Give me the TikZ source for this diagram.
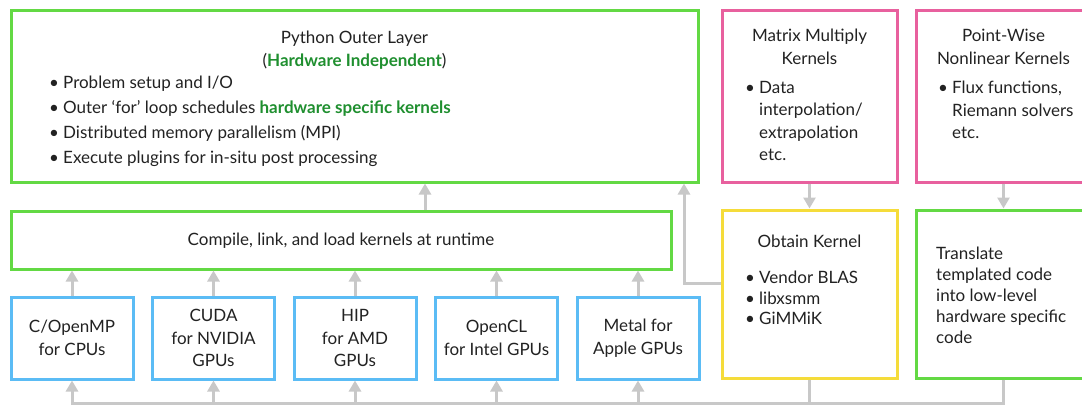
\documentclass[tikz,border=0pt]{standalone}
\usepackage{fontspec}
\setmainfont{Lato}
\usetikzlibrary{arrows.meta}
\definecolor{bgreen}{HTML}{63D944}
\definecolor{bpink}{HTML}{E8609E}
\definecolor{bblue}{HTML}{5BBCF5}
\definecolor{byellow}{HTML}{F5DC3A}
\definecolor{lgray}{HTML}{C8C8C8}
\definecolor{tgreen}{HTML}{1F8F2F}
\definecolor{ink}{HTML}{222222}
\newcommand{\hl}[1]{\textcolor{tgreen}{\bfseries #1}}
\newcommand{\bul}{\makebox[14pt][l]{\textbullet}}
\newcommand{\ind}{\hspace*{14pt}}
\tikzset{
  box/.style={draw=#1, line width=3pt, inner sep=0pt, fill=white},
  txt/.style={text=ink, inner sep=0pt, font=\fontsize{17}{#1}\selectfont},
  txt/.default=22.5,
  conn/.style={draw=lgray, line width=3pt},
  arr/.style={conn, -{Triangle[width=12pt,length=11pt]}},
}
\begin{document}
\begin{tikzpicture}[x=1pt,y=-1pt]
\useasboundingbox (0,0) rectangle (1082,407);
% boxes
\node[box=bgreen, minimum width=687pt, minimum height=172pt] (py) at (354.5,96) {};
\node[box=bpink, minimum width=175pt, minimum height=172pt] (mm) at (809.5,96) {};
\node[box=bpink, minimum width=175pt, minimum height=172pt] (pw) at (1003.5,96) {};
\node[box=bgreen, minimum width=660pt, minimum height=58pt] (cl) at (341,240) {};
\node[box=byellow, minimum width=175pt, minimum height=168pt] (ok) at (809.5,294) {};
\node[box=bgreen, minimum width=175pt, minimum height=168pt] (tr) at (1003.5,294) {};
\foreach \n/\x in {b1/72, b2/213.5, b3/355, b4/496.5, b5/638}
  \node[box=bblue, minimum width=122pt, minimum height=82pt] (\n) at (\x,338) {};
% texts
\node[txt=23, align=center] (pyt) at (354.5,50) {Python Outer Layer\\(\hl{Hardware Independent})};
\node[txt=25, align=left, anchor=west] (pyb) at (49,121) {\bul Problem setup and I/O\\
\bul Outer `for' loop schedules \hl{hardware specific kernels}\\
\bul Distributed memory parallelism (MPI)\\
\bul Execute plugins for in-situ post processing};
\node[txt=23, align=center] (mmt) at (809.5,47) {Matrix Multiply\\Kernels};
\node[txt=22.3, align=left, anchor=west] (mmb) at (745,121) {\bul Data\\\ind interpolation/\\\ind extrapolation\\\ind etc.};
\node[txt=22.5, align=left, anchor=west] (pwb) at (938,110) {\bul Flux functions,\\\ind Riemann solvers\\\ind etc.};
\node[txt=23, align=center] (pwt) at (1003.5,47) {Point-Wise\\Nonlinear Kernels};
\node[txt] (clt) at (341,241) {Compile, link, and load kernels at runtime};
\node[txt] (okt) at (809.5,241) {Obtain Kernel};
\node[txt=20.5, align=left, anchor=west] (okb) at (745,298) {\bul Vendor BLAS\\\bul libxsmm\\\bul GiMMiK};
\node[txt=21, align=left, anchor=west] (trt) at (936,295.5) {Translate\\templated code\\into low-level\\hardware specific\\code};
\node[txt, align=center] (b1t) at (b1) {C/OpenMP\\for CPUs};
\node[txt, align=center] (b2t) at (b2) {CUDA\\for NVIDIA\\GPUs};
\node[txt, align=center] (b3t) at (b3) {HIP\\for AMD\\GPUs};
\node[txt, align=center] (b4t) at (b4) {OpenCL\\for Intel GPUs};
\node[txt, align=center] (b5t) at (b5) {Metal for\\Apple GPUs};
% connectors
\coordinate (bus) at (0,403);
\coordinate (j) at (684,283);
\coordinate (up) at (425,0);
\foreach \n in {b1,b2,b3,b4,b5}
  \draw[arr] (\n.north) -- (\n.north |- cl.south);
\draw[arr] (up |- cl.north) -- (up |- py.south);
\draw[arr] (ok.west |- j) -- (j) -- (j |- py.south);
\draw[arr] (mm.south) -- (ok.north);
\draw[arr] (pw.south) -- (tr.north);
\draw[conn] (ok.south) -- (ok.south |- bus);
\draw[arr] (tr.south) -- (tr.south |- bus) -- (b1.south |- bus) -- (b1.south);
\foreach \n in {b2,b3,b4,b5}
  \draw[arr] (\n.south |- bus) -- (\n.south);
\end{tikzpicture}
\end{document}
